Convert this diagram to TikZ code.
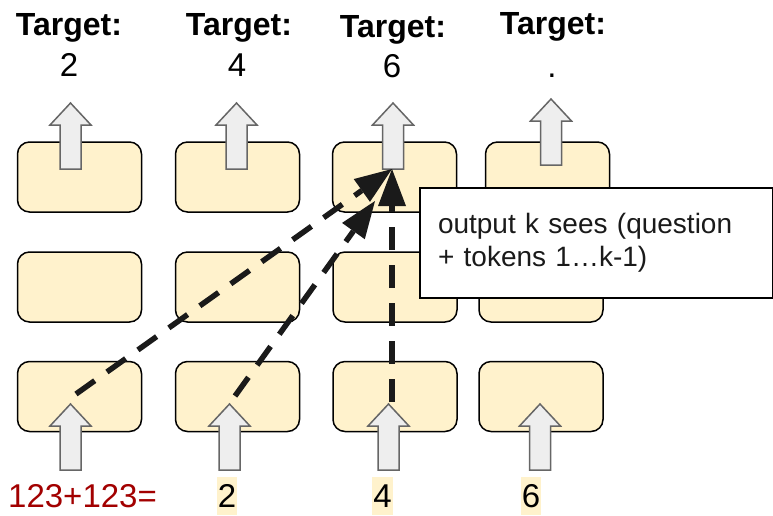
\documentclass[tikz,border=0pt]{standalone}
\usepackage{fontspec}
\setmainfont{Liberation Sans}
\usetikzlibrary{arrows.meta}

\definecolor{cellfill}{HTML}{FFF2CC}
\definecolor{qred}{HTML}{A20000}
\definecolor{arrfill}{HTML}{EEEEEE}
\definecolor{arrline}{HTML}{666666}
\definecolor{ink}{HTML}{1A1A1A}

\tikzset{
  cell/.style={draw=black, line width=1.5pt, fill=cellfill, rounded corners=12pt,
    minimum width=124pt, minimum height=70pt, inner sep=0pt},
  flow/.pic={
    \draw[draw=arrline, fill=arrfill, line width=1.5pt, line join=miter]
      (-10.5,0) -- (-10.5,-44) -- (-20.5,-44) -- (0,-66) -- (20.5,-44)
      -- (10.5,-44) -- (10.5,0) -- cycle;},
  attend/.style={draw=ink, line width=5.5pt, dash pattern=on 23pt off 15pt,
    -{Triangle[length=37pt, width=28pt, line width=0pt, fill=ink]}},
  head/.style={anchor=base, inner sep=0pt, font=\bfseries\fontsize{32}{38}\selectfont},
  digit/.style={anchor=base, inner sep=0pt, font=\fontsize{33}{38}\selectfont},
  token/.style={anchor=base, fill=cellfill, inner xsep=1pt, inner ysep=0pt,
    text height=30pt, text depth=8pt, font=\fontsize{33}{38}\selectfont},
  note/.style={draw=black, line width=2pt, fill=white, anchor=north west,
    minimum width=353pt, minimum height=110pt, inner xsep=18pt,
    text width=317pt, align=left, text=ink, font=\fontsize{28}{33}\selectfont}
}

\begin{document}
\begin{tikzpicture}[x=1pt, y=-1pt]
  \useasboundingbox (0,0) rectangle (773,515);

  % header labels
  \node[head] (t1) at (69,35) {Target:};
  \node[head] (t2) at (239,35) {Target:};
  \node[head] (t3) at (393,37) {Target:};
  \node[head] (t4) at (553,34) {Target:};
  \node[digit] (v1) at (69,76) {2};
  \node[digit] (v2) at (237,76) {4};
  \node[digit] (v3) at (392,77) {6};
  \node[digit] (v4) at (552,77) {.};

  % grid of cells
  \node[cell] (r1c1) at (79.5,177) {};
  \node[cell] (r1c2) at (237.5,177) {};
  \node[cell] (r1c3) at (394.5,177) {};
  \node[cell] (r1c4) at (547.5,177) {};
  \node[cell] (r2c1) at (79.5,287) {};
  \node[cell] (r2c2) at (237.5,287) {};
  \node[cell] (r2c3) at (395,287) {};
  \node[cell] (r2c4) at (541,287) {};
  \node[cell] (r3c1) at (79.5,396.5) {};
  \node[cell] (r3c2) at (237.5,396.5) {};
  \node[cell] (r3c3) at (395,396.5) {};
  \node[cell] (r3c4) at (541,396.5) {};

  % output arrows
  \pic at (70.5,169) {flow};
  \pic at (236.5,169) {flow};
  \pic at (393,169) {flow};
  \pic at (551,165) {flow};

  % input arrows
  \pic at (70.5,470) {flow};
  \pic at (229.5,470) {flow};
  \pic at (388.5,470) {flow};
  \pic at (540,470) {flow};

  % inputs
  \node[digit, anchor=base west, text=qred] (q) at (8,507) {123+123=};
  \node[token] (i1) at (227,507) {2};
  \node[token] (i2) at (382.5,507) {4};
  \node[token] (i3) at (531,507) {6};

  % attention paths into output 3
  \coordinate (src1) at (76,394);
  \coordinate (src2) at (235,396);
  \coordinate (src3) at (392,402);
  \coordinate (sink) at (392,169);
  \coordinate (sink2) at (375,201);
  \draw[attend] (src1) -- (sink);
  \draw[attend] (src2) -- (sink2);
  \draw[attend] (src3) -- (sink);

  % explanation
  \node[note] (n) at (419,187) {output k sees (question\\+ tokens 1\ldots k-1)};
\end{tikzpicture}
\end{document}
